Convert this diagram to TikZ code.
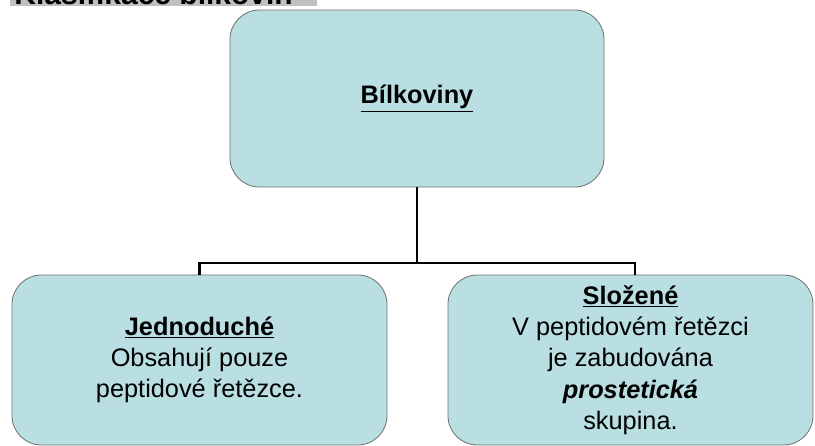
\documentclass[tikz,border=0pt]{standalone}
\usepackage{fontspec}
\setmainfont{Liberation Sans}
\usepackage{tikz}
\usetikzlibrary{positioning}
\definecolor{boxfill}{RGB}{185,223,227}
\definecolor{boxline}{RGB}{110,110,110}
\definecolor{barfill}{RGB}{192,192,192}

\begin{document}
\begin{tikzpicture}[x=0.75pt, y=-0.75pt, semithick,
    box/.style={draw=boxline, fill=boxfill, rounded corners=22pt, align=center,
      font=\fontsize{19}{23.5}\selectfont, inner sep=0pt},
    link/.style={draw=black, line width=1.6pt}]
      \useasboundingbox (0,0) rectangle (815,446);

      % Header bar (cut off at the top)
      \begin{scope}
        \clip (10,0) rectangle (317,6);
        \fill[barfill] (10,0) rectangle (317,6);
        \node[anchor=base west, inner sep=0pt, font=\fontsize{22.5}{26}\bfseries\selectfont]
          (title) at (14,5) {Klasifikace bílkovin};
      \end{scope}

      % Top box
      \node[box, minimum width=280.5pt, minimum height=132.75pt] (bilk) at (417,98.5)
        {\textbf{\underline{Bílkoviny}}};

      % Bottom boxes
      \node[box, minimum width=281.25pt, minimum height=127.5pt] (jedn) at (199.5,360)
        {\textbf{\underline{Jednoduché}}\\Obsahují pouze\\peptidové řetězce.};
      \node[box, minimum width=273.75pt, minimum height=127.5pt] (sloz) at (630.5,360)
        {\textbf{\underline{Složené}}\\V peptidovém řetězci\\je zabudována\\\textbf{\textit{prostetická}}\\skupina.};

      % Connectors
      \coordinate (split) at (417,263);
      \draw[link] (bilk.south) -- (split) -| (jedn.north);
      \draw[link] (split) -| ([xshift=3.5pt]sloz.north);
\end{tikzpicture}
\end{document}
